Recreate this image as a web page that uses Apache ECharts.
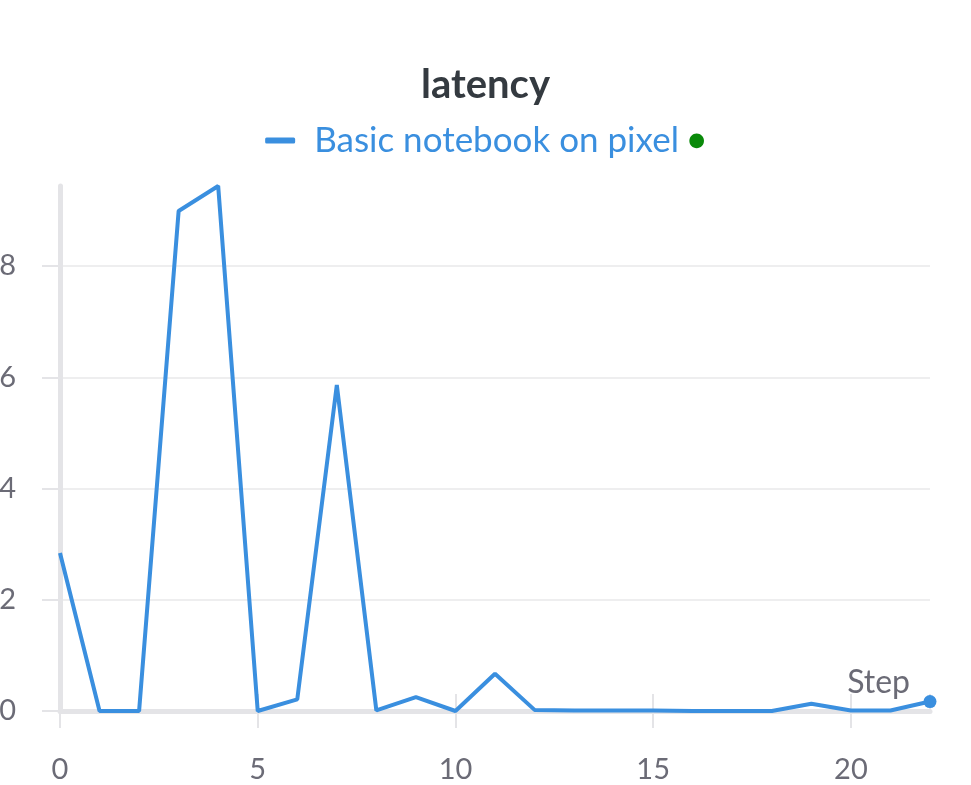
<!DOCTYPE html>
<html>
<head>
<meta charset="utf-8">
<script src="https://cdn.jsdelivr.net/npm/echarts@6/dist/echarts.min.js"></script>
<style>
    html, body { margin: 0; padding: 0; background: #fff; }
    #chart { width: 971px; height: 785px; }
</style>
</head>
<body>
<div id="chart"></div>
<script>
    const title = 'latency'
    const seriesName = 'Basic notebook on pixel'
    const steps = [0, 1, 2, 3, 4, 5, 6, 7, 8, 9, 10, 11, 12, 13, 14, 15, 16, 17, 18, 19, 20, 21, 22]
    const latency = [2.84, 0, 0, 8.99, 9.44, 0, 0.21, 5.86, 0.01, 0.25, 0, 0.67, 0.02, 0.01, 0.01, 0.01, 0, 0, 0, 0.13, 0.01, 0.01, 0.17]

    const lineColor = '#3a8fdf'
    const axisGray = '#e4e4e7'
    const labelGray = '#6b6b76'
    const font = 'Lato'

    const chart = echarts.init(document.getElementById('chart'))
    const last = latency.length - 1

    chart.setOption({
        animation: false,
        textStyle: { fontFamily: font },
        title: {
            text: title,
            left: 'center',
            top: 60,
            textStyle: { fontSize: 40, fontWeight: 'bold', color: '#343a40', fontFamily: font }
        },
        legend: {
            top: 118,
            left: 'center',
            icon: 'roundRect',
            itemWidth: 30,
            itemHeight: 6,
            itemGap: 10,
            formatter: name => name + ' {dot|●}',
            textStyle: {
                color: lineColor,
                fontSize: 35,
                fontFamily: font,
                padding: [0, 0, 0, 14],
                rich: {
                    dot: { color: '#0a8a0a', fontSize: 30 }
                }
            }
        },
        grid: { left: 60, right: 41, top: 186, bottom: 74, outerBoundsMode: 'none' },
        xAxis: [{
            type: 'value',
            min: 0,
            max: 22,
            interval: 5,
            name: 'Step',
            nameLocation: 'end',
            nameGap: -20,
            nameTextStyle: {
                color: labelGray,
                fontSize: 32,
                align: 'right',
                verticalAlign: 'bottom',
                padding: [0, 0, 12, 0]
            },
            axisLine: { show: true, lineStyle: { color: axisGray, width: 5 } },
            axisTick: { show: true, length: 17, lineStyle: { color: axisGray, width: 2 } },
            axisLabel: { color: labelGray, fontSize: 29, margin: 44, showMaxLabel: false },
            splitLine: { show: false }
        }, {
            type: 'value',
            min: 0,
            max: 22,
            interval: 5,
            position: 'bottom',
            axisLine: { show: false },
            axisTick: { show: true, inside: true, length: 17, lineStyle: { color: axisGray, width: 2 } },
            axisLabel: { show: false },
            splitLine: { show: false }
        }],
        yAxis: {
            type: 'value',
            min: 0,
            max: 'dataMax',
            interval: 2,
            axisLine: { show: true, lineStyle: { color: axisGray, width: 5 } },
            axisTick: { show: true, length: 18, lineStyle: { color: axisGray, width: 2 } },
            axisLabel: { color: labelGray, fontSize: 29, margin: 44, showMaxLabel: false },
            splitLine: { show: true, showMaxLine: false, lineStyle: { color: '#e8e8ea', width: 1.5 } }
        },
        series: [{
            name: seriesName,
            type: 'line',
            data: steps.map((s, i) => [s, latency[i]]),
            color: lineColor,
            showSymbol: true,
            symbol: (value, params) => params.dataIndex === last ? 'circle' : 'none',
            symbolSize: 13,
            itemStyle: { color: lineColor },
            lineStyle: { color: lineColor, width: 4 }
        }]
    })
</script>
</body>
</html>
